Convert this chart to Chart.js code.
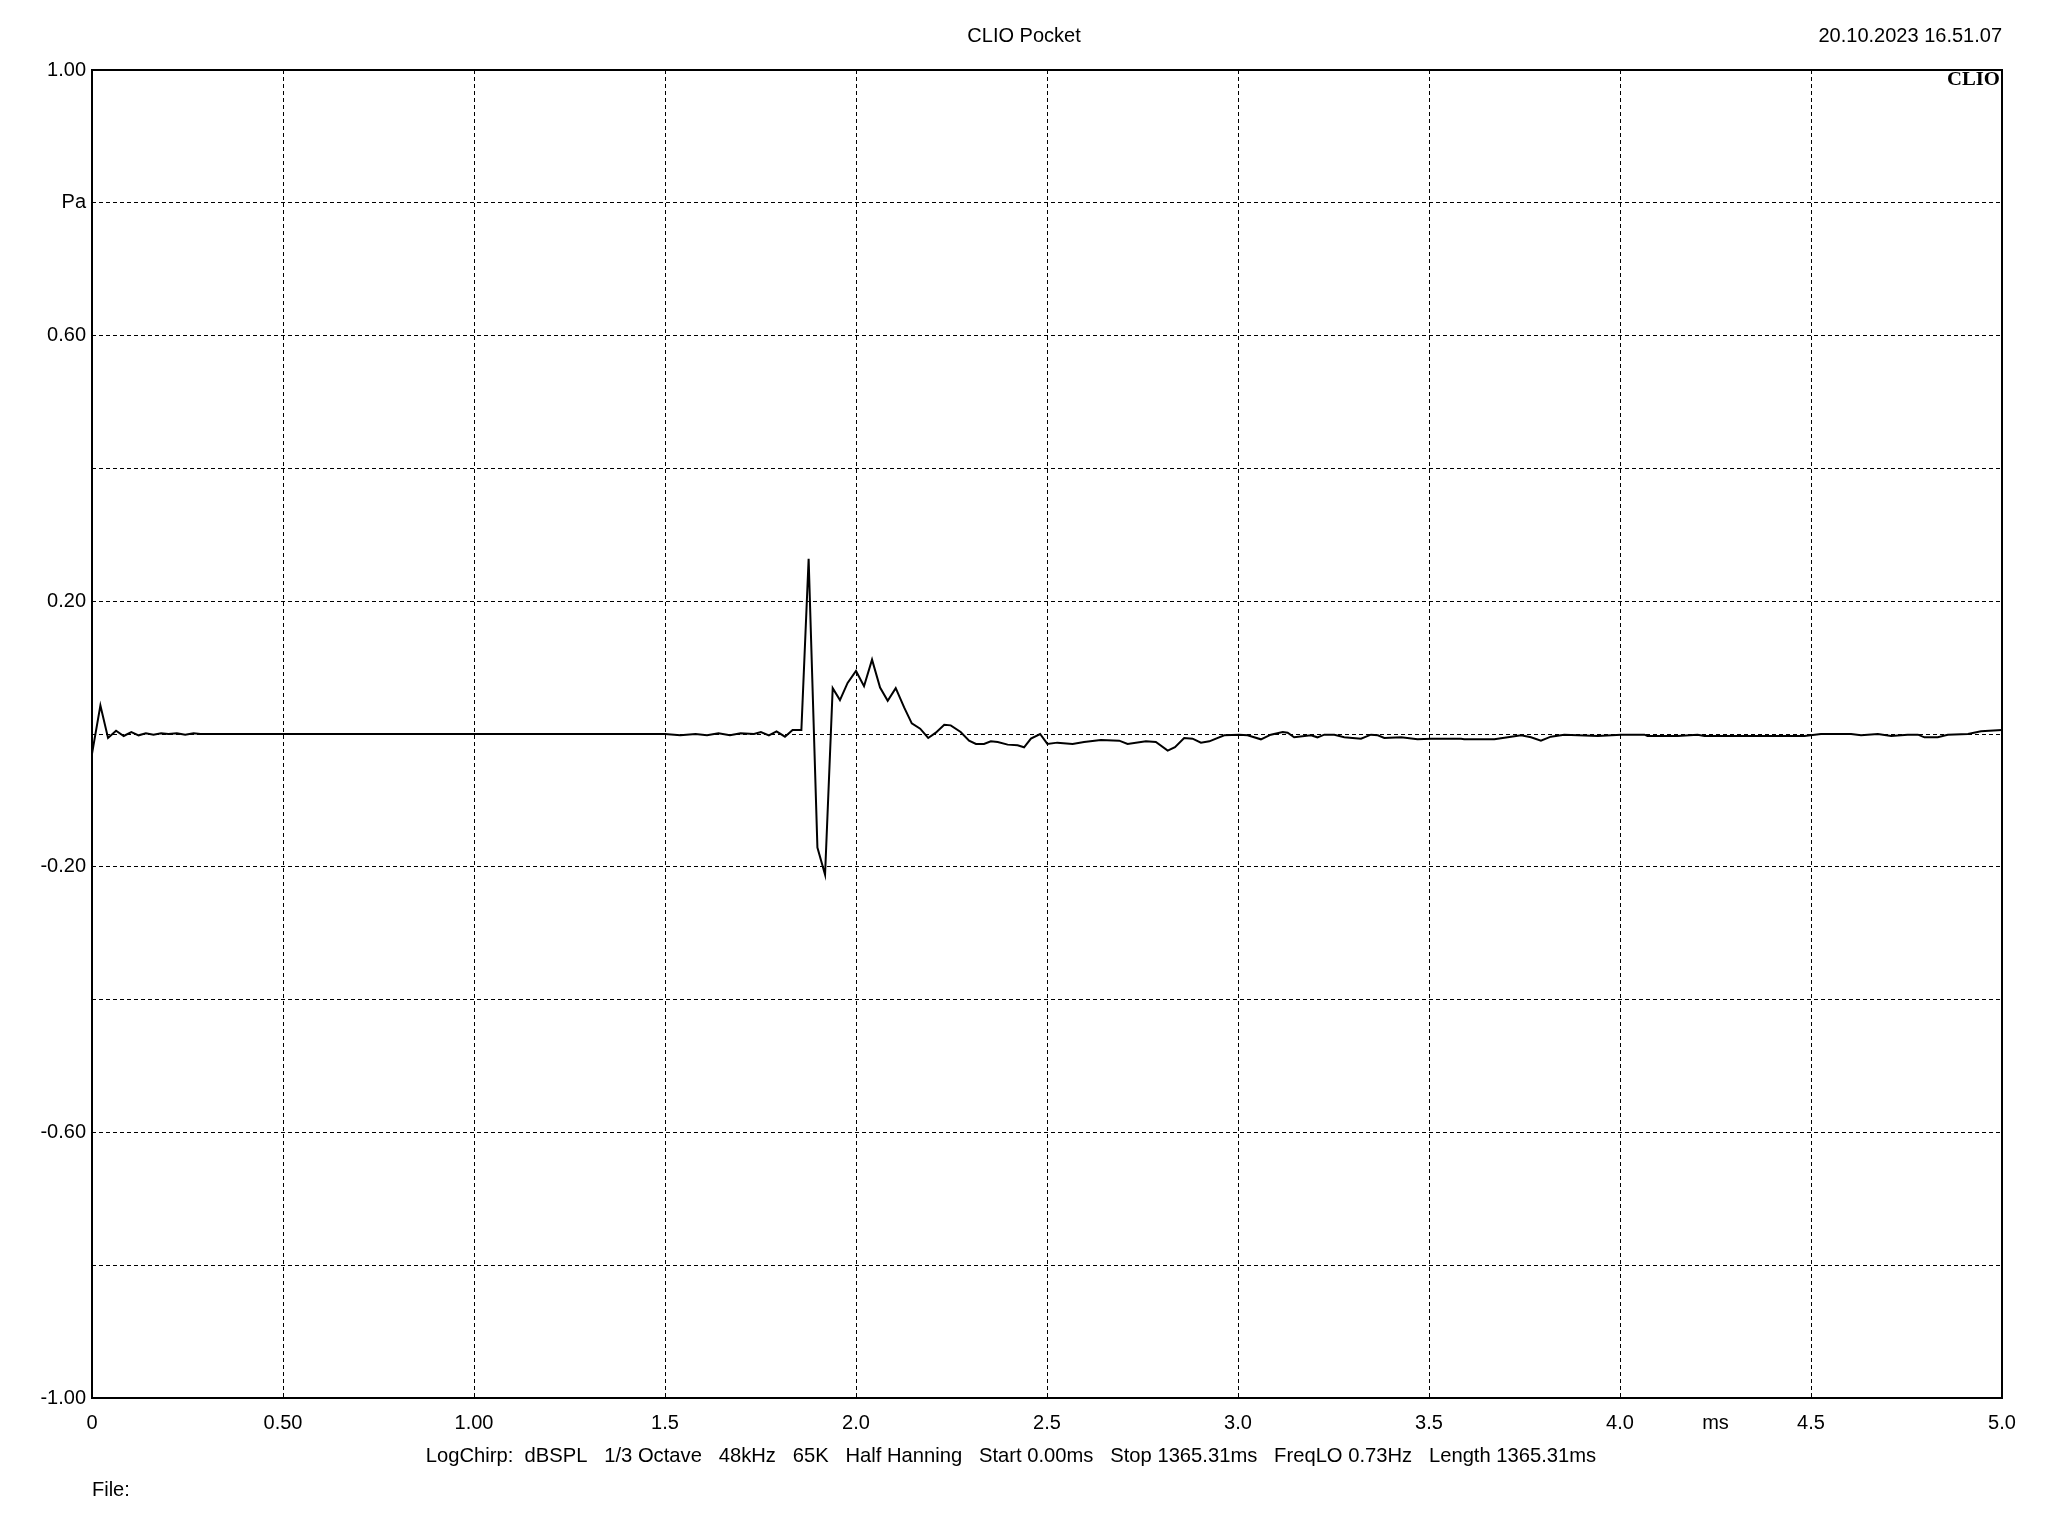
<!DOCTYPE html>
<html>
<head>
<meta charset="UTF-8">
<title>CLIO Pocket - Impulse</title>
<script src="https://cdn.jsdelivr.net/npm/chart.js"></script>
<style>
  body { margin: 0; background: #fff; }
  #wrap { width: 2048px; height: 1536px; }
</style>
</head>
<body>
<div id="wrap"><canvas id="grafico" width="2048" height="1536"></canvas></div>
<script>
// time axis in ms, pressure in Pa
const timeMs = [
  0.000, 0.022, 0.042, 0.063, 0.083, 0.103, 0.122, 0.141, 0.161, 0.181,
  0.200, 0.222, 0.244, 0.266, 0.284, 0.353, 1.500, 1.540, 1.580, 1.610,
  1.640, 1.670, 1.698, 1.733, 1.751, 1.772, 1.792, 1.814, 1.834, 1.857,
  1.876, 1.899, 1.919, 1.939, 1.958, 1.978, 2.000, 2.021, 2.042, 2.063,
  2.083, 2.104, 2.126, 2.146, 2.168, 2.189, 2.209, 2.231, 2.248, 2.274,
  2.296, 2.314, 2.335, 2.353, 2.371, 2.397, 2.423, 2.440, 2.458, 2.482,
  2.501, 2.527, 2.567, 2.597, 2.641, 2.689, 2.711, 2.759, 2.785, 2.816,
  2.835, 2.859, 2.881, 2.903, 2.925, 2.964, 3.003, 3.025, 3.060, 3.086,
  3.117, 3.130, 3.147, 3.191, 3.208, 3.226, 3.252, 3.278, 3.322, 3.348,
  3.366, 3.383, 3.427, 3.470, 3.505, 3.584, 3.592, 3.671, 3.715, 3.741,
  3.767, 3.793, 3.819, 3.854, 3.942, 4.003, 4.064, 4.072, 4.151, 4.203,
  4.221, 4.483, 4.526, 4.605, 4.631, 4.675, 4.710, 4.753, 4.780, 4.797,
  4.832, 4.858, 4.911, 4.945, 5.000
];
const pressurePa = [
  -0.030, 0.043, -0.006, 0.005, -0.003, 0.003, -0.002, 0.001, -0.001, 0.001,
  0.000, 0.001, -0.001, 0.001, 0.000, 0.000, 0.000, -0.002, 0.000, -0.002,
  0.001, -0.002, 0.001, 0.000, 0.003, -0.002, 0.004, -0.004, 0.006, 0.006,
  0.264, -0.171, -0.212, 0.069, 0.051, 0.077, 0.095, 0.072, 0.112, 0.070,
  0.050, 0.069, 0.040, 0.016, 0.008, -0.006, 0.002, 0.014, 0.013, 0.003,
  -0.010, -0.015, -0.015, -0.011, -0.012, -0.016, -0.017, -0.020, -0.007, 0.000,
  -0.015, -0.013, -0.015, -0.012, -0.009, -0.010, -0.015, -0.011, -0.012, -0.025,
  -0.020, -0.006, -0.007, -0.013, -0.011, -0.002, -0.001, -0.002, -0.008, -0.001,
  0.003, 0.002, -0.005, -0.002, -0.005, -0.001, -0.001, -0.005, -0.007, -0.001,
  -0.002, -0.006, -0.005, -0.008, -0.007, -0.007, -0.008, -0.008, -0.004, -0.002,
  -0.005, -0.010, -0.004, -0.001, -0.003, -0.001, -0.001, -0.003, -0.003, -0.001,
  -0.003, -0.003, 0.000, 0.000, -0.002, 0.000, -0.003, -0.001, -0.001, -0.005,
  -0.005, -0.001, 0.000, 0.004, 0.006
];

const yLabels = { '1': '1.00', '0.8': 'Pa', '0.6': '0.60', '0.2': '0.20', '-0.2': '-0.20', '-0.6': '-0.60', '-1': '-1.00' };
const xLabels = { '0': '0', '0.5': '0.50', '1': '1.00', '1.5': '1.5', '2': '2.0', '2.5': '2.5', '3': '3.0', '3.5': '3.5', '4': '4.0', '4.25': 'ms', '4.5': '4.5', '5': '5.0' };
const unitTick = 4.25;

const titulo = 'CLIO Pocket';
const dataHora = '20.10.2023 16.51.07';
const rodape = 'LogChirp:  dBSPL   1/3 Octave   48kHz   65K   Half Hanning   Start 0.00ms   Stop 1365.31ms   FreqLO 0.73Hz   Length 1365.31ms';

const fonte = '"Liberation Sans", Arial, sans-serif';
const key = v => String(Math.round(v * 100) / 100);

const extras = {
  id: 'extras',
  beforeDraw(chart) {
    const c = chart.ctx;
    c.save();
    c.fillStyle = '#fff';
    c.fillRect(0, 0, chart.width, chart.height);
    c.restore();
  },
  afterDraw(chart) {
    const c = chart.ctx;
    const a = chart.chartArea;
    c.save();
    c.strokeStyle = '#000';
    c.lineWidth = 2;
    c.strokeRect(a.left, a.top, a.right - a.left, a.bottom - a.top);

    c.fillStyle = '#000';
    c.font = '20px ' + fonte;
    c.textBaseline = 'middle';
    c.textAlign = 'center';
    c.fillText(titulo, 1024, 36);
    c.textAlign = 'right';
    c.fillText(dataHora, a.right, 36);
    c.textAlign = 'center';
    c.font = '20.2px ' + fonte;
    c.fillText(rodape, 1011, 1456);
    c.font = '20px ' + fonte;
    c.textAlign = 'left';
    c.fillText('File:', a.left, 1490);

    // CLIO logo
    c.font = 'bold 18px "Liberation Serif", serif';
    const w = c.measureText('CLIO').width;
    c.translate(a.right - 2, 80);
    c.scale(53 / w, 1);
    c.textAlign = 'right';
    c.fillText('CLIO', 0, 0);
    c.restore();
  }
};

new Chart(document.getElementById('grafico'), {
  type: 'line',
  data: {
    datasets: [{
      data: timeMs.map((t, i) => ({ x: t, y: pressurePa[i] })),
      borderColor: '#000',
      borderWidth: 2,
      pointRadius: 0,
      tension: 0,
      fill: false
    }]
  },
  options: {
    responsive: false,
    animation: false,
    layout: { padding: { left: 0, top: 70, right: 46, bottom: 0 } },
    plugins: { legend: { display: false }, tooltip: { enabled: false } },
    scales: {
      x: {
        type: 'linear',
        min: 0, max: 5,
        afterBuildTicks: s => {
          s.ticks.push({ value: unitTick });
          s.ticks.sort((p, q) => p.value - q.value);
        },
        afterFit: s => { s.height = 138; },
        ticks: {
          stepSize: 0.5,
          padding: 13,
          maxRotation: 0,
          autoSkip: false,
          color: '#000',
          font: { family: fonte, size: 20 },
          callback: v => xLabels[key(v)] ?? ''
        },
        grid: {
          drawTicks: false,
          color: c => (c.tick && c.tick.value === unitTick) ? 'rgba(0,0,0,0)' : '#000',
          lineWidth: 1
        },
        border: { display: false, dash: [4, 3] }
      },
      y: {
        min: -1, max: 1,
        afterFit: s => { s.width = 92; },
        ticks: {
          stepSize: 0.2,
          padding: 6,
          color: '#000',
          font: { family: fonte, size: 20 },
          callback: v => yLabels[key(v)] ?? ''
        },
        grid: { drawTicks: false, color: '#000', lineWidth: 1 },
        border: { display: false, dash: [4, 3] }
      }
    }
  },
  plugins: [extras]
});
</script>
</body>
</html>
